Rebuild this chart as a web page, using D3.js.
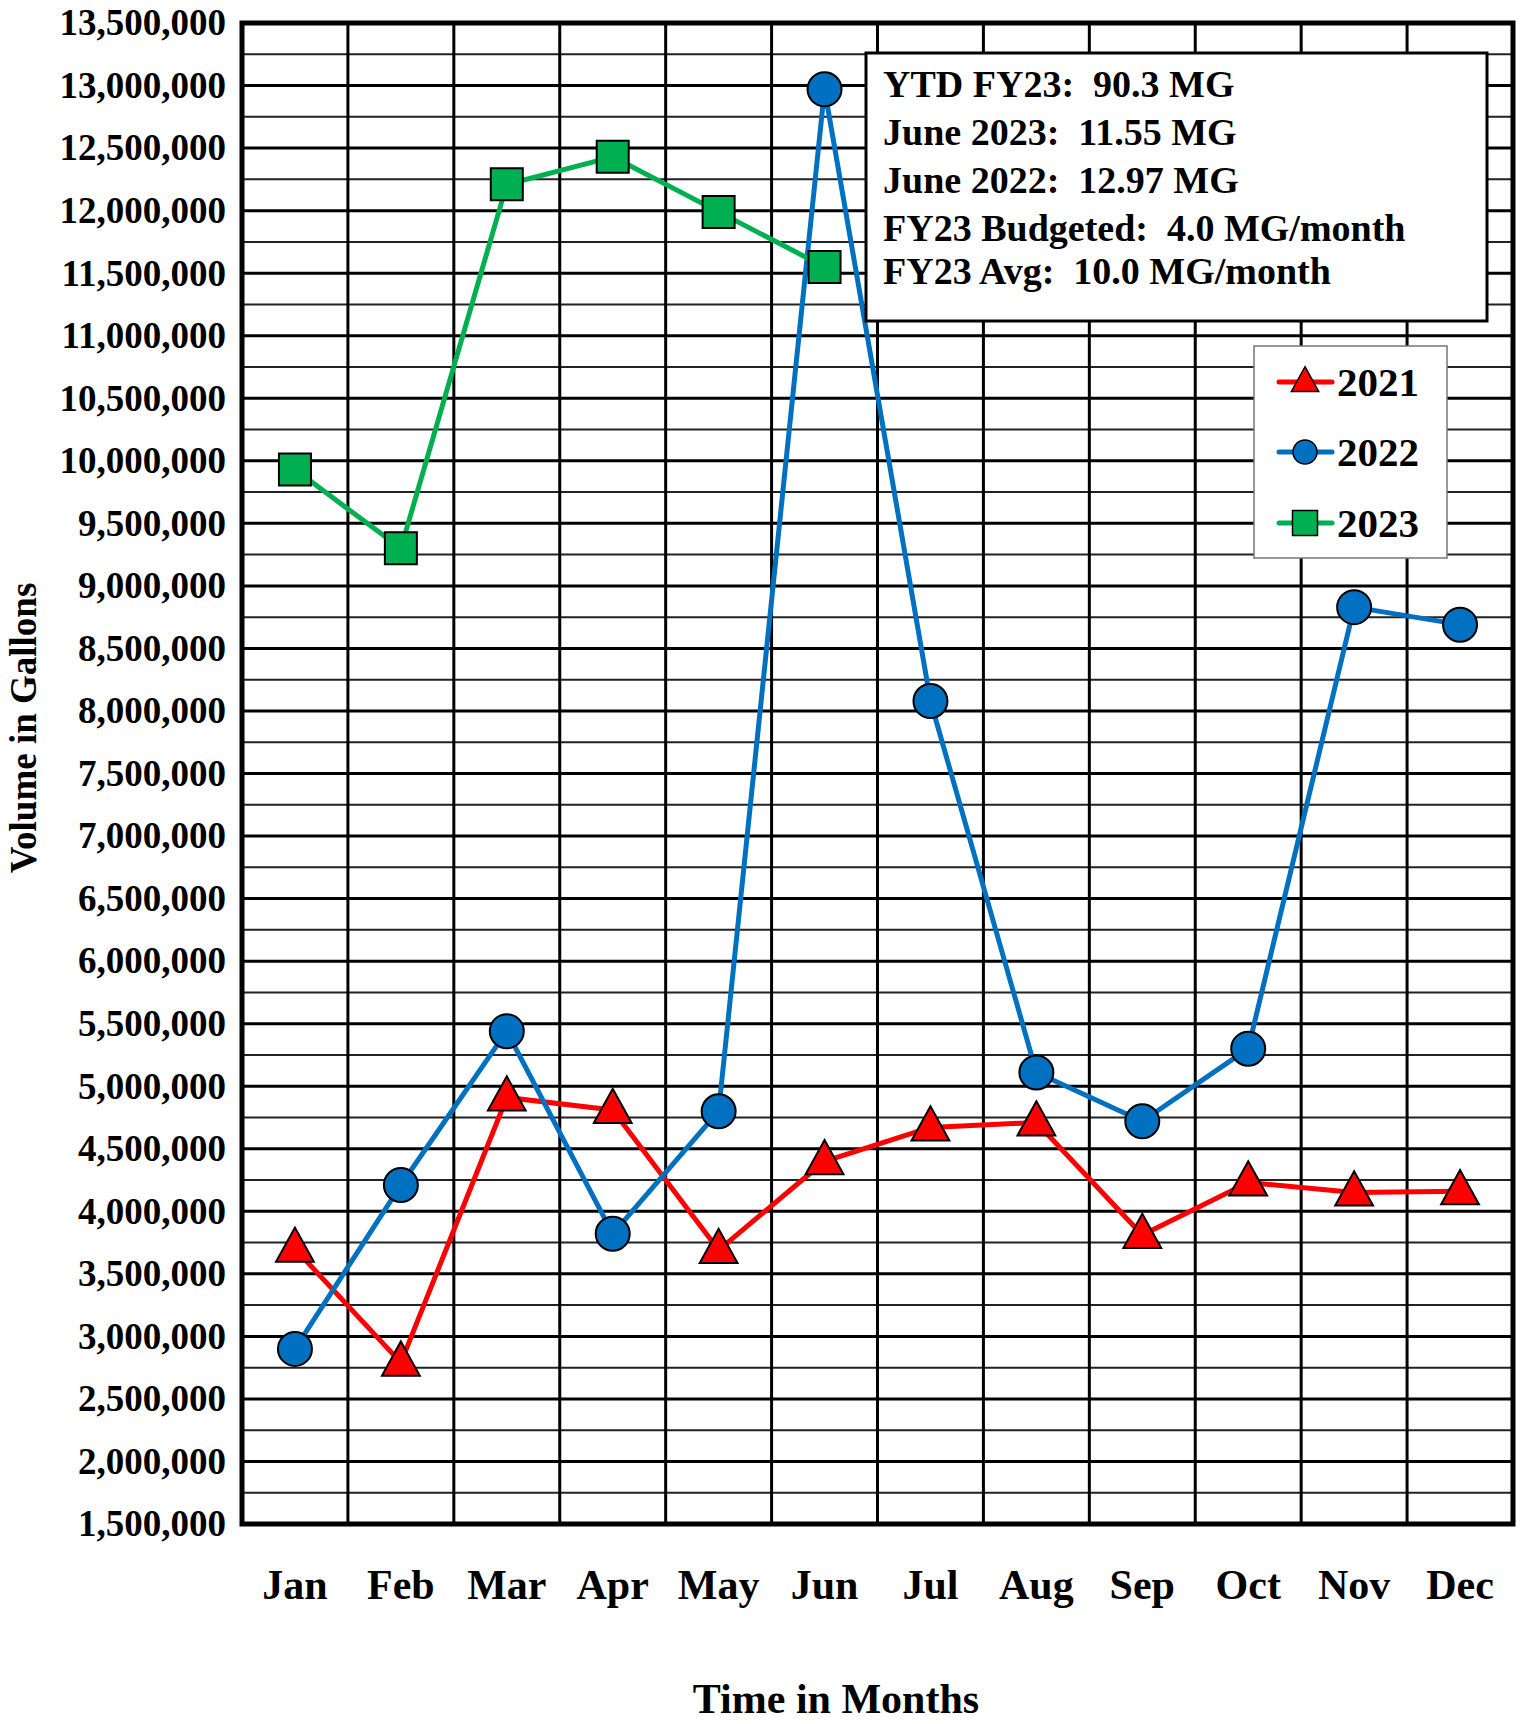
<!DOCTYPE html>
<html>
<head>
<meta charset="utf-8">
<script src="https://cdn.jsdelivr.net/npm/d3@7"></script>
<style>
  html, body { margin: 0; padding: 0; background: #fff; }
  svg { display: block; }
  text { font-family: "Liberation Serif", "Times New Roman", serif; font-weight: bold; fill: #000; }
</style>
</head>
<body>
<svg id="chart" width="1520" height="1724"></svg>
<script>
const months = ["Jan","Feb","Mar","Apr","May","Jun","Jul","Aug","Sep","Oct","Nov","Dec"];
const values2021 = [3700000, 2790000, 4910000, 4810000, 3690000, 4400000, 4670000, 4710000, 3810000, 4230000, 4150000, 4160000];
const values2022 = [2900000, 4210000, 5440000, 3820000, 4800000, 12970000, 8080000, 5110000, 4720000, 5300000, 8830000, 8690000];
const values2023 = [9930000, 9300000, 12210000, 12430000, 11990000, 11550000];
const seriesNames = ["2021", "2022", "2023"];
const seriesColors = ["#FF0000", "#0070C0", "#00B050"];
const seriesShapes = ["triangle", "circle", "square"];
const yMin = 1500000, yMax = 13500000, yStep = 500000;
const infoLines = [
  "YTD FY23:  90.3 MG",
  "June 2023:  11.55 MG",
  "June 2022:  12.97 MG",
  "FY23 Budgeted:  4.0 MG/month",
  "FY23 Avg:  10.0 MG/month"
];
const xTitle = "Time in Months";
const yTitle = "Volume in Gallons";

const svg = d3.select("#chart");
const L = 242, R = 1513, T = 23, B = 1524;

const x = d3.scaleBand().domain(months).range([L, R]).padding(0);
const y = d3.scaleLinear().domain([yMin, yMax]).range([B, T]);
const cx = m => x(m) + x.bandwidth() / 2;

const majorTicks = d3.range(yMin, yMax + 1, yStep);
const minorTicks = d3.range(yMin + yStep / 2, yMax, yStep);

// grid
const grid = svg.append("g");
grid.selectAll("line.minor").data(minorTicks).enter().append("line")
  .attr("x1", L).attr("x2", R).attr("y1", d => y(d)).attr("y2", d => y(d))
  .attr("stroke", "#222").attr("stroke-width", 2);
grid.selectAll("line.major").data(majorTicks).enter().append("line")
  .attr("x1", L).attr("x2", R).attr("y1", d => y(d)).attr("y2", d => y(d))
  .attr("stroke", "#000").attr("stroke-width", 3);
grid.selectAll("line.v").data(months.slice(1)).enter().append("line")
  .attr("x1", d => x(d)).attr("x2", d => x(d)).attr("y1", T).attr("y2", B)
  .attr("stroke", "#000").attr("stroke-width", 3);

// border
svg.append("rect").attr("x", L).attr("y", T).attr("width", R - L).attr("height", B - T)
  .attr("fill", "none").attr("stroke", "#000").attr("stroke-width", 5);

// y axis labels
const yAxis = d3.axisLeft(y).tickValues(majorTicks).tickSize(0).tickPadding(16)
  .tickFormat(d3.format(","));
const yg = svg.append("g").attr("transform", `translate(${L},0)`).call(yAxis);
yg.select(".domain").remove();
yg.selectAll("text").attr("font-size", 37).attr("font-family", "Liberation Serif").attr("font-weight", "bold").attr("fill", "#000");

// x axis labels
const xAxis = d3.axisBottom(x).tickSize(0).tickPadding(45);
const xg = svg.append("g").attr("transform", `translate(0,${B})`).call(xAxis);
xg.select(".domain").remove();
xg.selectAll("text").attr("font-size", 42).attr("font-family", "Liberation Serif").attr("font-weight", "bold").attr("fill", "#000");

// titles
svg.append("text").attr("x", 836).attr("y", 1713).attr("text-anchor", "middle")
  .attr("font-size", 42).text(xTitle);
svg.append("text").attr("transform", "translate(36,728) rotate(-90)").attr("text-anchor", "middle")
  .attr("font-size", 37).text(yTitle);

// series
const allSeries = [values2021, values2022, values2023];
const symbolGen = {
  triangle: s => { const h = s * 0.95, w = s * 1.05; return `M0,${-h*0.62}L${w/2},${h*0.38}L${-w/2},${h*0.38}Z`; },
  circle: s => d3.symbol(d3.symbolCircle, Math.PI * (s/2) * (s/2))(),
  square: s => `M${-s/2},${-s/2}H${s/2}V${s/2}H${-s/2}Z`
};
const markerSize = { triangle: 36, circle: 34, square: 32 };

allSeries.forEach((vals, i) => {
  const data = vals.map((v, j) => ({ m: months[j], v }));
  const line = d3.line().x(d => cx(d.m)).y(d => y(d.v));
  svg.append("path").datum(data).attr("d", line)
    .attr("fill", "none").attr("stroke", seriesColors[i]).attr("stroke-width", 5)
    .attr("stroke-linejoin", "round");
  svg.append("g").selectAll("path").data(data).enter().append("path")
    .attr("transform", d => `translate(${cx(d.m)},${y(d.v)})`)
    .attr("d", symbolGen[seriesShapes[i]](markerSize[seriesShapes[i]]))
    .attr("fill", seriesColors[i]).attr("stroke", "#000").attr("stroke-width", 2);
});

// info box
const ib = svg.append("g");
ib.append("rect").attr("x", 866).attr("y", 53).attr("width", 621).attr("height", 268)
  .attr("fill", "#fff").attr("stroke", "#000").attr("stroke-width", 3);
const infoY = [97, 145, 193, 241, 284];
ib.selectAll("text").data(infoLines).enter().append("text")
  .attr("x", 883).attr("y", (d, i) => infoY[i]).attr("font-size", 38).attr("xml:space", "preserve")
  .style("white-space", "pre").text(d => d);

// legend
const lg = svg.append("g");
lg.append("rect").attr("x", 1254).attr("y", 346).attr("width", 193).attr("height", 212)
  .attr("fill", "#fff").attr("stroke", "#777").attr("stroke-width", 1.5);
const legY = [382, 452, 523];
const legMarker = { triangle: 26, circle: 24, square: 25 };
seriesNames.forEach((n, i) => {
  lg.append("line").attr("x1", 1279).attr("x2", 1332).attr("y1", legY[i]).attr("y2", legY[i])
    .attr("stroke", seriesColors[i]).attr("stroke-width", 5).attr("stroke-linecap", "round");
  lg.append("path").attr("transform", `translate(1305,${legY[i]})`)
    .attr("d", symbolGen[seriesShapes[i]](legMarker[seriesShapes[i]]))
    .attr("fill", seriesColors[i]).attr("stroke", "#000").attr("stroke-width", 1.5);
  lg.append("text").attr("x", 1337).attr("y", legY[i] + 14).attr("font-size", 41).text(n);
});
</script>
</body>
</html>
